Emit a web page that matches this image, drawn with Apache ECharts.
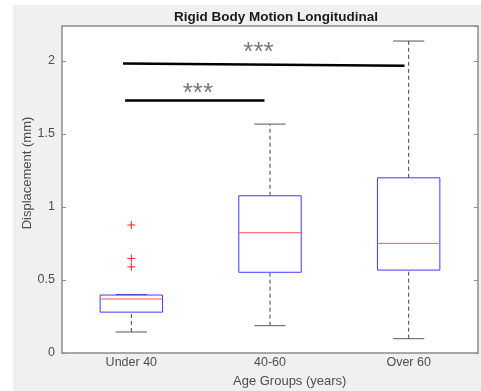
<!DOCTYPE html>
<html><head><meta charset="utf-8">
<script src="https://cdn.jsdelivr.net/npm/echarts@6/dist/echarts.min.js"></script>
<style>html,body{margin:0;padding:0;background:#fff}#c{width:481px;height:391px}</style>
</head><body><div id="c"></div>
<script>
const categories = ['Under 40', '40-60', 'Over 60'];
// [lowerWhisker, Q1, median, Q3, upperWhisker]
const boxStats = [
  [0.144, 0.28, 0.37, 0.397, 0.40],
  [0.187, 0.553, 0.824, 1.077, 1.568],
  [0.098, 0.568, 0.751, 1.20, 2.137]
];
const outliers = [[0, 0.877], [0, 0.648], [0, 0.59]];
const yTicks = [0, 0.5, 1, 1.5, 2];
const sigLong = [[0.94, 1.983], [2.97, 1.968]];
const sigShort = [[0.955, 1.73], [1.96, 1.73]];
const sigLabels = [[1.917, 2.096, '***'], [1.48, 1.815, '***']];

const chart = echarts.init(document.getElementById('c'), null, {renderer: 'canvas'});
const axisCol = '#8c8c8c';
const txtCol = '#4d4d4d';
const font = 'Liberation Sans, Arial, sans-serif';

function boxRender(params, api) {
  const i = api.value(0);
  const s = boxStats[i];
  const bw = api.size([1, 0])[0] * 0.45;
  const cx = api.coord([i, 0])[0];
  const y = v => api.coord([i, v])[1];
  const capW = bw * 0.5;
  const children = [];
  children.push({type: 'line', shape: {x1: cx, y1: y(s[3]), x2: cx, y2: y(s[4])},
    style: {stroke: '#444', lineWidth: 1, lineDash: [4, 3]}});
  children.push({type: 'line', shape: {x1: cx, y1: y(s[0]), x2: cx, y2: y(s[1])},
    style: {stroke: '#444', lineWidth: 1, lineDash: [4, 3]}});
  children.push({type: 'line', shape: {x1: cx - capW / 2, y1: y(s[4]), x2: cx + capW / 2, y2: y(s[4])},
    style: {stroke: '#555', lineWidth: 1}});
  children.push({type: 'line', shape: {x1: cx - capW / 2, y1: y(s[0]), x2: cx + capW / 2, y2: y(s[0])},
    style: {stroke: '#555', lineWidth: 1}});
  children.push({type: 'rect', shape: {x: cx - bw / 2, y: y(s[3]), width: bw, height: y(s[1]) - y(s[3])},
    style: {fill: 'none', stroke: '#3b3bff', lineWidth: 1}});
  children.push({type: 'line', shape: {x1: cx - bw / 2, y1: y(s[2]), x2: cx + bw / 2, y2: y(s[2])},
    style: {stroke: '#ff5555', lineWidth: 1}});
  return {type: 'group', children};
}

function outRender(params, api) {
  const p = api.coord([api.value(0), api.value(1)]);
  const r = 4;
  return {type: 'group', children: [
    {type: 'line', shape: {x1: p[0] - r, y1: p[1], x2: p[0] + r, y2: p[1]}, style: {stroke: '#ff2020', lineWidth: 1}},
    {type: 'line', shape: {x1: p[0], y1: p[1] - r, x2: p[0], y2: p[1] + r}, style: {stroke: '#ff2020', lineWidth: 1}}
  ]};
}

const option = {
  animation: false,
  backgroundColor: '#ffffff',
  graphic: [
    {type: 'rect', z: -10, silent: true, shape: {x: 13, y: 5, width: 481 - 13, height: 391 - 5}, style: {fill: '#f0f0f0'}},
    {type: 'rect', z: -9, silent: true, shape: {x: 62, y: 26, width: 416, height: 327}, style: {fill: '#ffffff'}},
    {type: 'text', left: 233, top: 375, style: {text: 'Age Groups (years)', fill: txtCol, font: '13px ' + font}},
    {type: 'text', x: 27, y: 173, rotation: Math.PI / 2, style: {text: 'Displacement (mm)', fill: txtCol, font: '13px ' + font, textAlign: 'center', textVerticalAlign: 'middle'}}
  ],
  title: {text: 'Rigid Body Motion Longitudinal', left: 271, textAlign: 'center', top: 5,
    textStyle: {fontSize: 13.5, fontWeight: 'bold', color: '#1a1a1a', fontFamily: font}},
  grid: {left: 62, top: 26, right: 3, bottom: 38, show: false},
  xAxis: [
    {type: 'category', data: categories, boundaryGap: true, position: 'bottom',
      axisLine: {lineStyle: {color: axisCol, width: 1.5}},
      axisTick: {inside: true, alignWithLabel: true, length: 4, lineStyle: {color: axisCol}},
      axisLabel: {color: txtCol, fontSize: 12.5, fontFamily: font, margin: 3},
      splitLine: {show: false}},
    {type: 'value', min: 0.5, max: 3.5, show: false},
    {type: 'category', data: categories, boundaryGap: true, position: 'top',
      axisLine: {lineStyle: {color: axisCol, width: 1.5}},
      axisTick: {inside: true, alignWithLabel: true, length: 4, lineStyle: {color: axisCol}},
      axisLabel: {show: false}, splitLine: {show: false}}
  ],
  yAxis: [
    {type: 'value', min: 0, max: 2.24, interval: 0.5, position: 'left',
      axisLine: {show: true, lineStyle: {color: axisCol, width: 1.5}},
      axisTick: {show: true, inside: true, length: 4, lineStyle: {color: axisCol}},
      axisLabel: {color: txtCol, fontSize: 12.5, fontFamily: font, margin: 7,
        formatter: v => yTicks.includes(v) ? String(v) : '', showMaxLabel: false},
      splitLine: {show: false}},
    {type: 'value', min: 0, max: 2.24, interval: 0.5, position: 'right',
      axisLine: {show: true, lineStyle: {color: axisCol, width: 1.5}},
      axisTick: {show: true, inside: true, length: 4, lineStyle: {color: axisCol}},
      axisLabel: {show: false}, splitLine: {show: false}}
  ],
  series: [
    {type: 'custom', xAxisIndex: 0, yAxisIndex: 0, renderItem: boxRender,
      data: boxStats.map((s, i) => [i, s[0], s[1], s[2], s[3], s[4]]), z: 3},
    {type: 'custom', xAxisIndex: 0, yAxisIndex: 0, renderItem: outRender, data: outliers, z: 4},
    {type: 'line', xAxisIndex: 1, yAxisIndex: 0, data: sigLong, symbol: 'none',
      lineStyle: {color: '#000', width: 2.5}, z: 5},
    {type: 'line', xAxisIndex: 1, yAxisIndex: 0, data: sigShort, symbol: 'none',
      lineStyle: {color: '#000', width: 2.5}, z: 5},
    {type: 'scatter', xAxisIndex: 1, yAxisIndex: 0, symbolSize: 0,
      data: sigLabels.map(d => ({value: [d[0], d[1]], label: {show: true, formatter: d[2], position: 'inside',
        offset: [0, 6], color: '#555', fontSize: 26, fontFamily: font}})), z: 6}
  ]
};
chart.setOption(option);
</script></body></html>
